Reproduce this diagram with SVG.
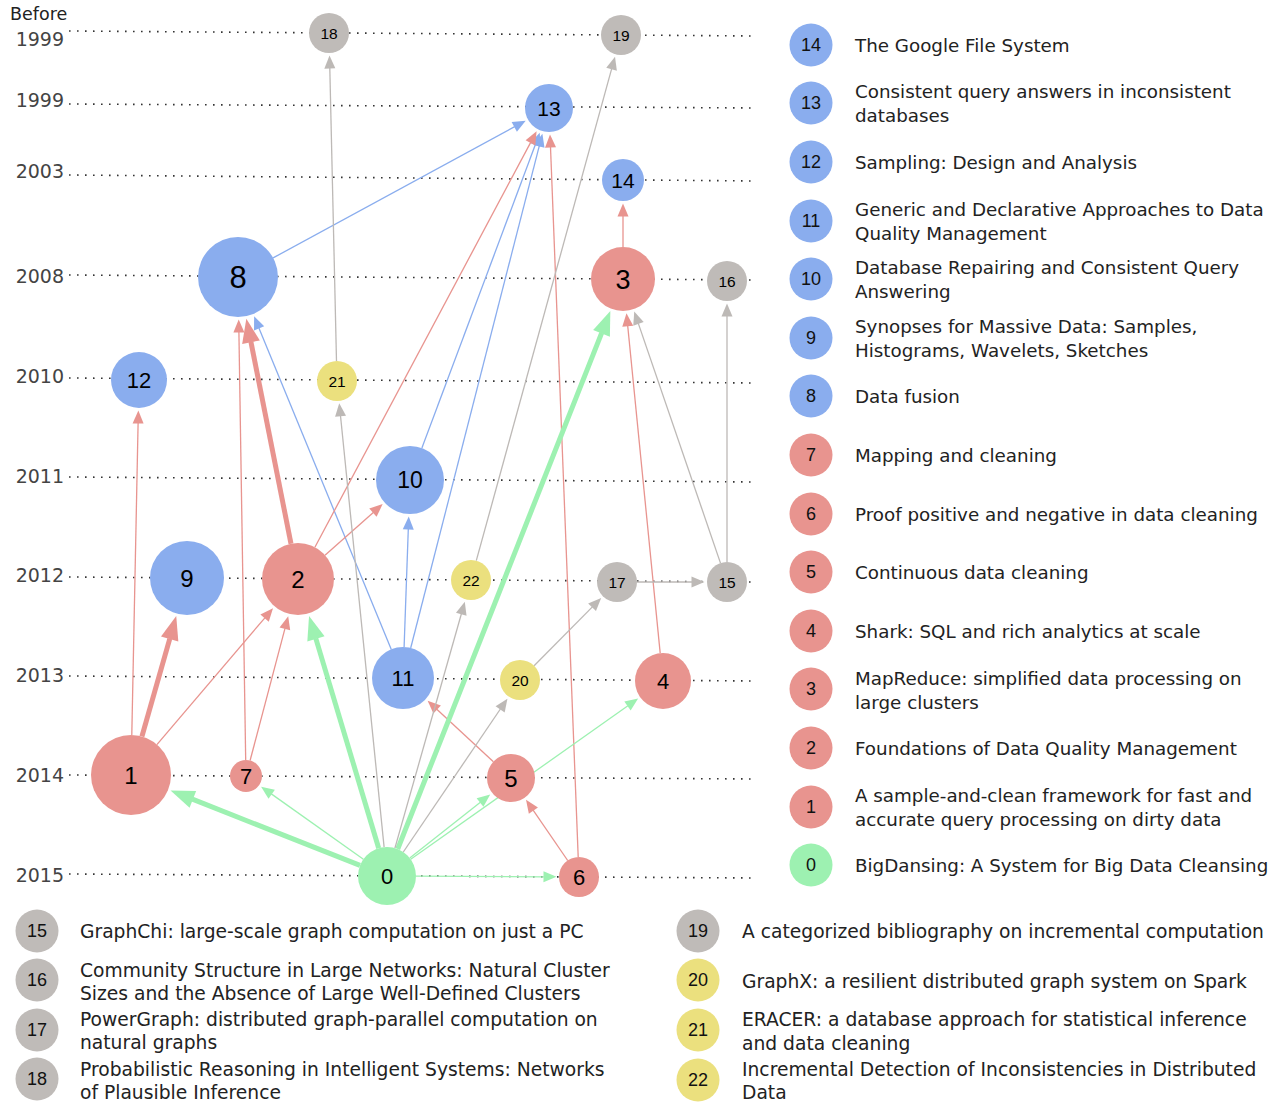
<svg xmlns="http://www.w3.org/2000/svg" width="1278" height="1103" viewBox="0 0 1278 1103">
<style>
.yr{font-family:"DejaVu Sans",sans-serif;font-size:19px;fill:#444;text-anchor:end}
.grid{stroke:#333;stroke-width:1.6;stroke-dasharray:1.6 6.4;fill:none}
.e{fill:none;stroke-width:1.3}
.t{stroke-width:5}
.eb{stroke:#8AADEE}.er{stroke:#E8948F}.eg{stroke:#9DF1B1}.ey{stroke:#BDB9B6}
.nb{fill:#8AADEE}.nr{fill:#E8948F}.ng{fill:#9DF1B1}.ny{fill:#BFBBB8}.nw{fill:#EBE07E}
.nl{font-family:"Liberation Sans",Arial,sans-serif;fill:#000;text-anchor:middle}
.lg{font-family:"DejaVu Sans",sans-serif;font-size:18.3px;fill:#222}
.lb{font-family:"DejaVu Sans",sans-serif;font-size:18.7px;fill:#222}
.ln{font-family:"Liberation Sans",Arial,sans-serif;font-size:18px;fill:#111;text-anchor:middle}
</style>
<defs>
<marker id="ab" markerUnits="userSpaceOnUse" orient="auto" viewBox="0 -6 14 12" markerWidth="14" markerHeight="12" refX="0.5" refY="0" overflow="visible"><path d="M0,-5.5L13,0L0,5.5Z" fill="#8AADEE"/></marker>
<marker id="ar" markerUnits="userSpaceOnUse" orient="auto" viewBox="0 -6 14 12" markerWidth="14" markerHeight="12" refX="0.5" refY="0" overflow="visible"><path d="M0,-5.5L13,0L0,5.5Z" fill="#E8948F"/></marker>
<marker id="ag" markerUnits="userSpaceOnUse" orient="auto" viewBox="0 -6 14 12" markerWidth="14" markerHeight="12" refX="0.5" refY="0" overflow="visible"><path d="M0,-5.5L13,0L0,5.5Z" fill="#9DF1B1"/></marker>
<marker id="ay" markerUnits="userSpaceOnUse" orient="auto" viewBox="0 -6 14 12" markerWidth="14" markerHeight="12" refX="0.5" refY="0" overflow="visible"><path d="M0,-5.5L13,0L0,5.5Z" fill="#BDB9B6"/></marker>
<marker id="Ar" markerUnits="userSpaceOnUse" orient="auto" viewBox="0 -10 25 20" markerWidth="25" markerHeight="20" refX="0.5" refY="0" overflow="visible"><path d="M0,-9L24,0L0,9Z" fill="#E8948F"/></marker>
<marker id="Ag" markerUnits="userSpaceOnUse" orient="auto" viewBox="0 -10 25 20" markerWidth="25" markerHeight="20" refX="0.5" refY="0" overflow="visible"><path d="M0,-9L24,0L0,9Z" fill="#9DF1B1"/></marker>
</defs>
<rect width="1278" height="1103" fill="#fff"/>
<g id="axis">
<text x="10" y="20" style="font-family:'DejaVu Sans',sans-serif;font-size:17.5px;fill:#222">Before</text>
<text class="yr" x="64" y="46">1999</text>
<text class="yr" x="64" y="107">1999</text>
<text class="yr" x="64" y="178">2003</text>
<text class="yr" x="64" y="283">2008</text>
<text class="yr" x="64" y="383">2010</text>
<text class="yr" x="64" y="483">2011</text>
<text class="yr" x="64" y="582">2012</text>
<text class="yr" x="64" y="682">2013</text>
<text class="yr" x="64" y="782">2014</text>
<text class="yr" x="64" y="882">2015</text>
<line class="grid" x1="69" y1="31" x2="756" y2="36"/>
<line class="grid" x1="69" y1="104" x2="756" y2="108"/>
<line class="grid" x1="69" y1="175" x2="756" y2="181"/>
<line class="grid" x1="69" y1="275" x2="756" y2="280"/>
<line class="grid" x1="69" y1="378" x2="756" y2="383"/>
<line class="grid" x1="69" y1="477" x2="756" y2="482"/>
<line class="grid" x1="69" y1="577" x2="756" y2="582"/>
<line class="grid" x1="69" y1="676" x2="756" y2="681"/>
<line class="grid" x1="69" y1="775" x2="756" y2="779"/>
<line class="grid" x1="69" y1="874" x2="756" y2="878"/>
</g>
<g id="edges">
<path class="e eb" d="M273.1,257.9L514.7,126.6" marker-end="url(#ab)"/>
<path class="e eb" d="M391.2,649.3L258.9,327.9" marker-end="url(#ab)"/>
<path class="e eb" d="M421.9,448.1L535.4,144.5" marker-end="url(#ab)"/>
<path class="e eb" d="M410.7,648L539.3,145.8" marker-end="url(#ab)"/>
<path class="e eb" d="M404.1,647L408.3,529" marker-end="url(#ab)"/>
<path class="e er" d="M314.9,547.2L530.7,142.4" marker-end="url(#ar)"/>
<path class="e er" d="M578.2,857L550.5,147" marker-end="url(#ar)"/>
<path class="e er" d="M623,247L623,216" marker-end="url(#ar)"/>
<path class="e er" d="M660.2,653.1L627.7,325.8" marker-end="url(#ar)"/>
<path class="e er" d="M131.8,735L138.1,423" marker-end="url(#ar)"/>
<path class="e er t" d="M141.9,736.5L169.8,638.6" marker-end="url(#Ar)"/>
<path class="e er" d="M156.9,744.6L264.9,617.8" marker-end="url(#ar)"/>
<path class="e er" d="M245.7,760L238.9,332" marker-end="url(#ar)"/>
<path class="e er" d="M250.1,760.5L285,628.3" marker-end="url(#ar)"/>
<path class="e er t" d="M291,543.7L250.9,341.7" marker-end="url(#Ar)"/>
<path class="e er" d="M325,555.2L373.3,512.4" marker-end="url(#ar)"/>
<path class="e er" d="M493.4,761.7L436.8,709.2" marker-end="url(#ar)"/>
<path class="e er" d="M567.7,860.5L533.1,810.1" marker-end="url(#ar)"/>
<path class="e eg t" d="M360,865.4L192.4,799.2" marker-end="url(#Ag)"/>
<path class="e eg" d="M363.4,859.2L271.3,793.9" marker-end="url(#ag)"/>
<path class="e eg t" d="M378.7,848.2L315.8,638.4" marker-end="url(#Ag)"/>
<path class="e eg t" d="M397.7,849L601.7,332.9" marker-end="url(#Ag)"/>
<path class="e eg" d="M409.8,858L480.4,802.2" marker-end="url(#ag)"/>
<path class="e eg" d="M410.7,859.3L627.9,705.8" marker-end="url(#ag)"/>
<path class="e eg" d="M416,876.2L544,876.8" marker-end="url(#ag)"/>
<path class="e ey" d="M336.5,361L329.8,68" marker-end="url(#ay)"/>
<path class="e ey" d="M384.1,847.1L340.5,415.8" marker-end="url(#ay)"/>
<path class="e ey" d="M476.3,560.7L611.7,68.7" marker-end="url(#ay)"/>
<path class="e ey" d="M394.9,848.1L461.4,613.7" marker-end="url(#ay)"/>
<path class="e ey" d="M403.3,852L500.4,709" marker-end="url(#ay)"/>
<path class="e ey" d="M534.1,665.8L592.4,606.9" marker-end="url(#ay)"/>
<path class="e ey" d="M637,582L692,582" marker-end="url(#ay)"/>
<path class="e ey" d="M720.5,563.1L638.3,323.4" marker-end="url(#ay)"/>
<path class="e ey" d="M727,562L727,316" marker-end="url(#ay)"/>
</g>
<g id="node-0"><circle class="ng" cx="387" cy="876" r="29"/><text class="nl" x="387" y="884" font-size="22">0</text></g>
<g id="node-1"><circle class="nr" cx="131" cy="775" r="40"/><text class="nl" x="131" y="783.6" font-size="24">1</text></g>
<g id="node-2"><circle class="nr" cx="298" cy="579" r="36"/><text class="nl" x="298" y="587.6" font-size="24">2</text></g>
<g id="node-3"><circle class="nr" cx="623" cy="279" r="32"/><text class="nl" x="623" y="288.7" font-size="27">3</text></g>
<g id="node-4"><circle class="nr" cx="663" cy="681" r="28"/><text class="nl" x="663" y="688.9" font-size="22">4</text></g>
<g id="node-5"><circle class="nr" cx="511" cy="778" r="24"/><text class="nl" x="511" y="786.6" font-size="24">5</text></g>
<g id="node-6"><circle class="nr" cx="579" cy="877" r="20"/><text class="nl" x="579" y="884.9" font-size="22">6</text></g>
<g id="node-7"><circle class="nr" cx="246" cy="776" r="16"/><text class="nl" x="246" y="783.9" font-size="22">7</text></g>
<g id="node-8"><circle class="nb" cx="238" cy="277" r="40"/><text class="nl" x="238" y="288.1" font-size="31">8</text></g>
<g id="node-9"><circle class="nb" cx="187" cy="578" r="37"/><text class="nl" x="187" y="586.6" font-size="24">9</text></g>
<g id="node-10"><circle class="nb" cx="410" cy="480" r="34"/><text class="nl" x="410" y="488.2" font-size="23">10</text></g>
<g id="node-11"><circle class="nb" cx="403" cy="678" r="31"/><text class="nl" x="403" y="685.9" font-size="22">11</text></g>
<g id="node-12"><circle class="nb" cx="139" cy="380" r="28"/><text class="nl" x="139" y="387.9" font-size="22">12</text></g>
<g id="node-13"><circle class="nb" cx="549" cy="108" r="24"/><text class="nl" x="549" y="115.5" font-size="21">13</text></g>
<g id="node-14"><circle class="nb" cx="623" cy="180" r="21"/><text class="nl" x="623" y="187.5" font-size="21">14</text></g>
<g id="node-15"><circle class="ny" cx="727" cy="582" r="20"/><text class="nl" x="727" y="587.6" font-size="15.5">15</text></g>
<g id="node-16"><circle class="ny" cx="727" cy="281" r="20"/><text class="nl" x="727" y="286.6" font-size="15.5">16</text></g>
<g id="node-17"><circle class="ny" cx="617" cy="582" r="20"/><text class="nl" x="617" y="587.6" font-size="15.5">17</text></g>
<g id="node-18"><circle class="ny" cx="329" cy="33" r="20"/><text class="nl" x="329" y="38.6" font-size="15.5">18</text></g>
<g id="node-19"><circle class="ny" cx="621" cy="35" r="20"/><text class="nl" x="621" y="40.6" font-size="15.5">19</text></g>
<g id="node-20"><circle class="nw" cx="520" cy="680" r="20"/><text class="nl" x="520" y="685.6" font-size="15.5">20</text></g>
<g id="node-21"><circle class="nw" cx="337" cy="381" r="20"/><text class="nl" x="337" y="386.6" font-size="15.5">21</text></g>
<g id="node-22"><circle class="nw" cx="471" cy="580" r="20"/><text class="nl" x="471" y="585.6" font-size="15.5">22</text></g>
<g id="legend-right">
<circle class="nb" cx="811" cy="45" r="21.5"/><text class="ln" x="811" y="51.4">14</text><text class="lg" x="855" y="52">The Google File System</text>
<circle class="nb" cx="811" cy="103" r="21.5"/><text class="ln" x="811" y="109.4">13</text><text class="lg" x="855" y="98">Consistent query answers in inconsistent</text><text class="lg" x="855" y="122">databases</text>
<circle class="nb" cx="811" cy="162" r="21.5"/><text class="ln" x="811" y="168.4">12</text><text class="lg" x="855" y="169">Sampling: Design and Analysis</text>
<circle class="nb" cx="811" cy="221" r="21.5"/><text class="ln" x="811" y="227.4">11</text><text class="lg" x="855" y="216">Generic and Declarative Approaches to Data</text><text class="lg" x="855" y="240">Quality Management</text>
<circle class="nb" cx="811" cy="279" r="21.5"/><text class="ln" x="811" y="285.4">10</text><text class="lg" x="855" y="274">Database Repairing and Consistent Query</text><text class="lg" x="855" y="298">Answering</text>
<circle class="nb" cx="811" cy="338" r="21.5"/><text class="ln" x="811" y="344.4">9</text><text class="lg" x="855" y="333">Synopses for Massive Data: Samples,</text><text class="lg" x="855" y="357">Histograms, Wavelets, Sketches</text>
<circle class="nb" cx="811" cy="396" r="21.5"/><text class="ln" x="811" y="402.4">8</text><text class="lg" x="855" y="403">Data fusion</text>
<circle class="nr" cx="811" cy="455" r="21.5"/><text class="ln" x="811" y="461.4">7</text><text class="lg" x="855" y="462">Mapping and cleaning</text>
<circle class="nr" cx="811" cy="514" r="21.5"/><text class="ln" x="811" y="520.4">6</text><text class="lg" x="855" y="521">Proof positive and negative in data cleaning</text>
<circle class="nr" cx="811" cy="572" r="21.5"/><text class="ln" x="811" y="578.4">5</text><text class="lg" x="855" y="579">Continuous data cleaning</text>
<circle class="nr" cx="811" cy="631" r="21.5"/><text class="ln" x="811" y="637.4">4</text><text class="lg" x="855" y="638">Shark: SQL and rich analytics at scale</text>
<circle class="nr" cx="811" cy="689" r="21.5"/><text class="ln" x="811" y="695.4">3</text><text class="lg" x="855" y="685">MapReduce: simplified data processing on</text><text class="lg" x="855" y="709">large clusters</text>
<circle class="nr" cx="811" cy="748" r="21.5"/><text class="ln" x="811" y="754.4">2</text><text class="lg" x="855" y="755">Foundations of Data Quality Management</text>
<circle class="nr" cx="811" cy="807" r="21.5"/><text class="ln" x="811" y="813.4">1</text><text class="lg" x="855" y="802">A sample-and-clean framework for fast and</text><text class="lg" x="855" y="826">accurate query processing on dirty data</text>
<circle class="ng" cx="811" cy="865" r="21.5"/><text class="ln" x="811" y="871.4">0</text><text class="lg" x="855" y="872">BigDansing: A System for Big Data Cleansing</text>
</g>
<g id="legend-bottom">
<circle class="ny" cx="37" cy="931" r="21.5"/><text class="ln" x="37" y="937.4">15</text><text class="lb" x="80" y="938">GraphChi: large-scale graph computation on just a PC</text>
<circle class="ny" cx="37" cy="980" r="21.5"/><text class="ln" x="37" y="986.4">16</text><text class="lb" x="80" y="977">Community Structure in Large Networks: Natural Cluster</text><text class="lb" x="80" y="1000">Sizes and the Absence of Large Well-Defined Clusters</text>
<circle class="ny" cx="37" cy="1030" r="21.5"/><text class="ln" x="37" y="1036.4">17</text><text class="lb" x="80" y="1026">PowerGraph: distributed graph-parallel computation on</text><text class="lb" x="80" y="1049">natural graphs</text>
<circle class="ny" cx="37" cy="1079" r="21.5"/><text class="ln" x="37" y="1085.4">18</text><text class="lb" x="80" y="1076">Probabilistic Reasoning in Intelligent Systems: Networks</text><text class="lb" x="80" y="1099">of Plausible Inference</text>
<circle class="ny" cx="698" cy="931" r="21.5"/><text class="ln" x="698" y="937.4">19</text><text class="lb" x="742" y="938">A categorized bibliography on incremental computation</text>
<circle class="nw" cx="698" cy="980" r="21.5"/><text class="ln" x="698" y="986.4">20</text><text class="lb" x="742" y="988">GraphX: a resilient distributed graph system on Spark</text>
<circle class="nw" cx="698" cy="1030" r="21.5"/><text class="ln" x="698" y="1036.4">21</text><text class="lb" x="742" y="1026">ERACER: a database approach for statistical inference</text><text class="lb" x="742" y="1050">and data cleaning</text>
<circle class="nw" cx="698" cy="1080" r="21.5"/><text class="ln" x="698" y="1086.4">22</text><text class="lb" x="742" y="1076">Incremental Detection of Inconsistencies in Distributed</text><text class="lb" x="742" y="1099">Data</text>
</g>
</svg>
